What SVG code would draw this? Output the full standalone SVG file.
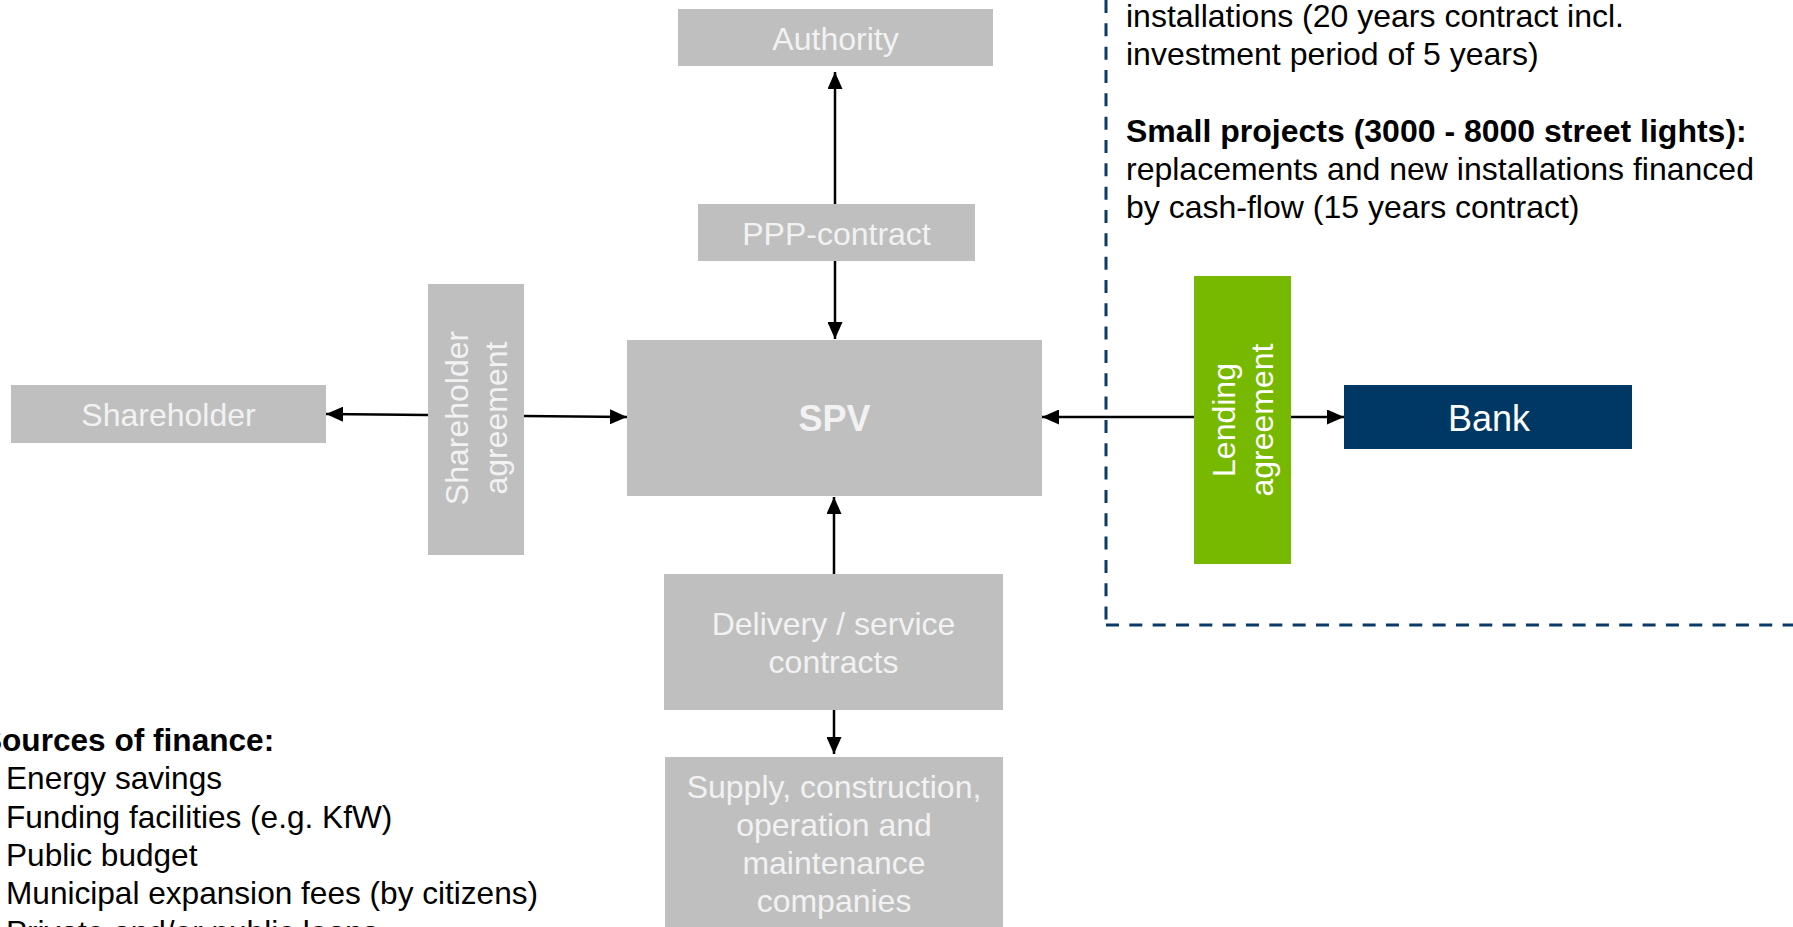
<svg xmlns="http://www.w3.org/2000/svg" width="1793" height="927" viewBox="0 0 1793 927">
<style>
.box{fill:#bfbfbf}
.nt{font-family:"Liberation Sans",Arial,sans-serif;font-size:32px;fill:#f2f2f2;text-anchor:middle}
.big{font-size:36px}
.bt{font-family:"Liberation Sans",Arial,sans-serif;font-size:32px;fill:#000}
.sm{font-size:31.6px}
.b{font-weight:bold}
.con{stroke:#000;stroke-width:2.5;fill:none}
.dash{stroke:#0b3a66;stroke-width:3;fill:none;stroke-dasharray:13 10.33}
</style>
<defs>
<marker id="arr" markerUnits="userSpaceOnUse" markerWidth="17" markerHeight="15" refX="17" refY="7.5" orient="auto">
<path d="M0,0 L17,7.5 L0,15 z" fill="#000"/>
</marker>
</defs>
<rect width="1793" height="927" fill="#fff"/>
<g id="finance-box">
<line class="dash" x1="1106" y1="0" x2="1106" y2="625"/>
<line class="dash" x1="1106" y1="625" x2="1800" y2="625"/>
<text class="bt"><tspan x="1126" y="26.5">installations (20 years contract incl.</tspan><tspan x="1126" y="64.8">investment period of 5 years)</tspan><tspan x="1126" y="141.5" class="b">Small projects (3000 - 8000 street lights):</tspan><tspan x="1126" y="179.8">replacements and new installations financed</tspan><tspan x="1126" y="218.1">by cash-flow (15 years contract)</tspan></text>
</g>
<g id="authority"><rect class="box" x="678" y="9" width="315" height="57"/><text class="nt" x="835.5" y="49.5">Authority</text></g>
<g id="ppp-contract"><rect class="box" x="698" y="204" width="277" height="57"/><text class="nt" x="836.5" y="244.5">PPP-contract</text></g>
<g id="spv"><rect class="box" x="627" y="340" width="415" height="156"/><text class="nt big b" x="834.5" y="430.5">SPV</text></g>
<g id="shareholder"><rect class="box" x="11" y="385" width="315" height="58"/><text class="nt" x="168.5" y="425.5">Shareholder</text></g>
<g id="shareholder-agreement"><rect class="box" x="428" y="284" width="96" height="271"/><text class="nt" transform="translate(476,418) rotate(-90)"><tspan x="0" y="-7.6">Shareholder</tspan><tspan x="0" y="30.7">agreement</tspan></text></g>
<g id="delivery"><rect class="box" x="664" y="574" width="339" height="136"/><text class="nt"><tspan x="833.5" y="635">Delivery / service</tspan><tspan x="833.5" y="673">contracts</tspan></text></g>
<g id="supply"><rect class="box" x="665" y="757" width="338" height="175"/><text class="nt"><tspan x="834" y="797.5">Supply, construction,</tspan><tspan x="834" y="835.8">operation and</tspan><tspan x="834" y="874.1">maintenance</tspan><tspan x="834" y="912.4">companies</tspan></text></g>
<g id="lending-agreement"><rect x="1194" y="276" width="97" height="288" fill="#77b900"/><text class="nt" style="fill:#fff" transform="translate(1242.5,420) rotate(-90)"><tspan x="0" y="-7.6">Lending</tspan><tspan x="0" y="30.7">agreement</tspan></text></g>
<g id="bank"><rect x="1344" y="385" width="288" height="64" fill="#003865"/><text class="nt big" style="fill:#fff" x="1489" y="431">Bank</text></g>
<g id="sources">
<text class="bt sm"><tspan x="-19" y="751" class="b">Sources of finance:</tspan><tspan x="6" y="789.3">Energy savings</tspan><tspan x="6" y="827.6">Funding facilities (e.g. KfW)</tspan><tspan x="6" y="865.9">Public budget</tspan><tspan x="6" y="904.2">Municipal expansion fees (by citizens)</tspan><tspan x="6" y="942.5">Private and/or public loans</tspan></text>
</g>
<g id="connectors">
<line class="con" x1="835" y1="204" x2="835" y2="72" marker-end="url(#arr)"/>
<line class="con" x1="835" y1="261" x2="835" y2="339" marker-end="url(#arr)"/>
<line class="con" x1="834" y1="574" x2="834" y2="497" marker-end="url(#arr)"/>
<line class="con" x1="834" y1="710" x2="834" y2="754" marker-end="url(#arr)"/>
<line class="con" x1="428" y1="415" x2="326" y2="414" marker-end="url(#arr)"/>
<line class="con" x1="524" y1="416" x2="627" y2="417" marker-end="url(#arr)"/>
<line class="con" x1="1194" y1="417" x2="1042" y2="417" marker-end="url(#arr)"/>
<line class="con" x1="1291" y1="417" x2="1344" y2="417" marker-end="url(#arr)"/>
</g>
</svg>
